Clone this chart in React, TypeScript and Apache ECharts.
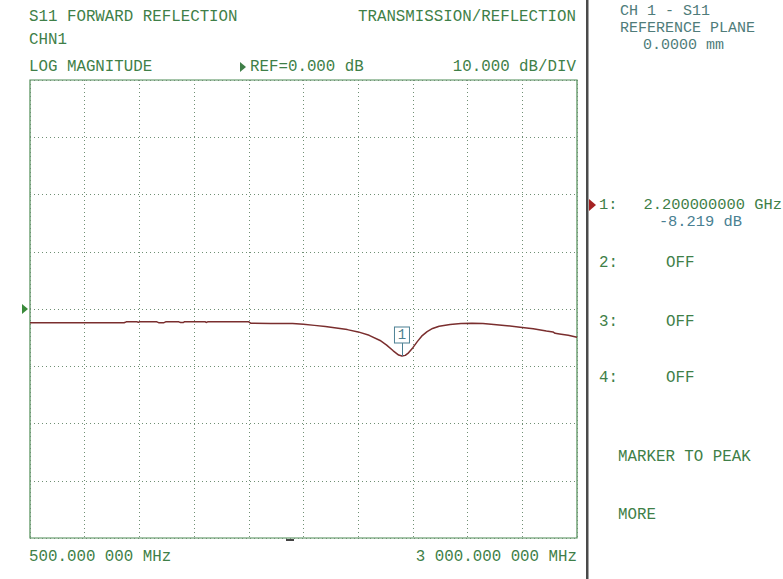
import React, { useEffect, useRef } from "react";
import * as echarts from "echarts";

// Frequency sweep (MHz) and S11 log magnitude (dB)
const freqMHz = [
  500, 600, 700, 800, 900, 930, 940, 990, 995, 1000, 1080, 1090, 1110, 1120, 1180, 1188, 1200, 1205,
  1300, 1305, 1312, 1400, 1500, 1510, 1600, 1700, 1750, 1800, 1850, 1900, 1950, 2000, 2050, 2100,
  2130, 2160, 2185, 2200, 2215, 2230, 2250, 2270, 2290, 2315, 2340, 2370, 2420, 2470, 2520, 2570,
  2620, 2680, 2740, 2800, 2860, 2890, 2900, 2920, 2960, 3000,
];
const s11dB = [
  -2.4, -2.4, -2.4, -2.4, -2.4, -2.4, -2.24, -2.24, -2.34, -2.24, -2.24, -2.42, -2.42, -2.24, -2.24, -2.36, -2.36, -2.24,
  -2.22, -2.36, -2.24, -2.22, -2.24, -2.5, -2.52, -2.55, -2.68, -2.86, -3.06, -3.3, -3.6, -4.0, -4.6, -5.5,
  -6.3, -7.3, -8.05, -8.219, -8.1, -7.65, -6.75, -5.7, -4.75, -3.95, -3.4, -3.0, -2.7, -2.55, -2.5, -2.55,
  -2.7, -2.92, -3.18, -3.45, -3.85, -4.0, -4.25, -4.35, -4.6, -4.94,
];
const xTickStepMHz = 250;
const yRange = [-40, 40];
const yStepDB = 10;
const marker1 = { freq: 2200, value: -8.219 };

const headerLeft = ["S11 FORWARD REFLECTION", "CHN1", "LOG MAGNITUDE"];
const headerRight = ["TRANSMISSION/REFLECTION", "10.000 dB/DIV"];
const refLabel = "REF=0.000 dB";
const startLabel = "500.000 000 MHz";
const stopLabel = "3 000.000 000 MHz";
const panelTop = ["CH 1 - S11", "REFERENCE PLANE", "0.0000 mm"];
const markerRows = ["2:", "3:", "4:"];
const markerRowValues = ["OFF", "OFF", "OFF"];
const softkeys = ["MARKER TO PEAK", "MORE"];

const FONT = '"Liberation Mono", "DejaVu Sans Mono", monospace';
const GREEN = "#3f7f48";
const FRAME = "#4c8c54";
const TEAL = "#4f7c7a";
const BLUE = "#4a7f92";

function txt(text: string, x: number, y: number, fill: string, align = "left", size = 15.8) {
  return {
    type: "text",
    x,
    y,
    silent: true,
    style: {
      text,
      fill,
      font: `${size}px ${FONT}`,
      lineHeight: 13,
      align,
      verticalAlign: "middle",
    },
  };
}

export default function App() {
  const ref = useRef<HTMLDivElement>(null);
  useEffect(() => {
    const chart = echarts.init(ref.current!, null, { renderer: "svg" });
    const data = freqMHz.map((f, i) => [f, s11dB[i]]);
    const graphics: any[] = [
      txt(headerLeft[0], 29, 17, GREEN),
      txt(headerLeft[1], 29, 40, GREEN),
      txt(headerLeft[2], 29, 67, GREEN),
      txt(headerRight[0], 576, 17, GREEN, "right"),
      txt(headerRight[1], 576, 67, GREEN, "right"),
      { type: "polygon", silent: true, shape: { points: [[240, 62], [240, 72], [246, 67]] }, style: { fill: GREEN } },
      txt(refLabel, 250, 67, GREEN),
      txt(startLabel, 29, 557, GREEN),
      txt(stopLabel, 577, 557, GREEN, "right"),
      // reference position arrow
      { type: "polygon", silent: true, shape: { points: [[22, 304], [22, 314], [28, 309]] }, style: { fill: "#3a8a3a" } },
      // bottom indicator
      { type: "rect", silent: true, shape: { x: 286, y: 539, width: 8, height: 2 }, style: { fill: "#444" } },
      // panel separator
      { type: "rect", silent: true, shape: { x: 586, y: 0, width: 2.5, height: 579 }, style: { fill: "#4a4a4a" } },
      txt(panelTop[0], 620, 11, TEAL, "left", 15),
      txt(panelTop[1], 620, 28, TEAL, "left", 15),
      txt(panelTop[2], 643, 45, TEAL, "left", 15),
      { type: "polygon", silent: true, shape: { points: [[589, 199], [589, 211], [596, 205]] }, style: { fill: "#a52222" } },
      txt("1:", 599, 205, GREEN, "left", 15.4),
      txt(`${(marker1.freq / 1000).toFixed(9)} GHz`, 782, 205, GREEN, "right", 15.4),
      txt(`${marker1.value.toFixed(3)} dB`, 742, 222, BLUE, "right", 15.4),
      ...markerRows.flatMap((r, i) => {
        const y = [263, 322, 378][i];
        return [txt(r, 599, y, GREEN), txt(markerRowValues[i], 666, y, GREEN)];
      }),
      txt(softkeys[0], 618, 457, GREEN),
      txt(softkeys[1], 618, 515, GREEN),
    ];
    chart.setOption({
      animation: false,
      backgroundColor: "#ffffff",
      grid: {
        left: 30,
        top: 80,
        right: 783 - 577,
        bottom: 579 - 538,
        show: true,
        borderColor: FRAME,
        borderWidth: 1.2,
        backgroundColor: "transparent",
      },
      xAxis: {
        type: "value",
        min: 500,
        max: 3000,
        interval: xTickStepMHz,
        axisLine: { show: false },
        axisTick: { show: false },
        axisLabel: { show: false },
        splitLine: { show: true, lineStyle: { color: "#6f8f74", type: [1, 3], width: 1 } },
      },
      yAxis: {
        type: "value",
        min: yRange[0],
        max: yRange[1],
        interval: yStepDB,
        axisLine: { show: false },
        axisTick: { show: false },
        axisLabel: { show: false },
        splitLine: { show: true, lineStyle: { color: "#6f8f74", type: [1, 3], width: 1 } },
      },
      series: [
        {
          type: "line",
          data,
          showSymbol: false,
          lineStyle: { color: "#7a2e2e", width: 1.5 },
          z: 3,
          markLine: {
            silent: true,
            symbol: "none",
            label: { show: false },
            lineStyle: { color: BLUE, width: 1, type: "solid" },
            data: [[{ coord: [marker1.freq, marker1.value] }, { coord: [marker1.freq, marker1.value + 2.3] }]],
          },
          markPoint: {
            silent: true,
            symbol: "rect",
            symbolSize: [15, 16],
            symbolOffset: [0, -21],
            itemStyle: { color: "#ffffff", borderColor: BLUE, borderWidth: 1 },
            label: { show: true, formatter: "1", color: BLUE, fontSize: 14, fontFamily: FONT, position: "inside" },
            data: [{ coord: [marker1.freq, marker1.value] }],
          },
        },
      ],
      graphic: graphics,
    });
    return () => chart.dispose();
  }, []);
  return (
    <div
      ref={ref}
      style={{ position: "fixed", left: 0, top: 0, width: 783, height: 579, background: "#fff" }}
    />
  );
}
